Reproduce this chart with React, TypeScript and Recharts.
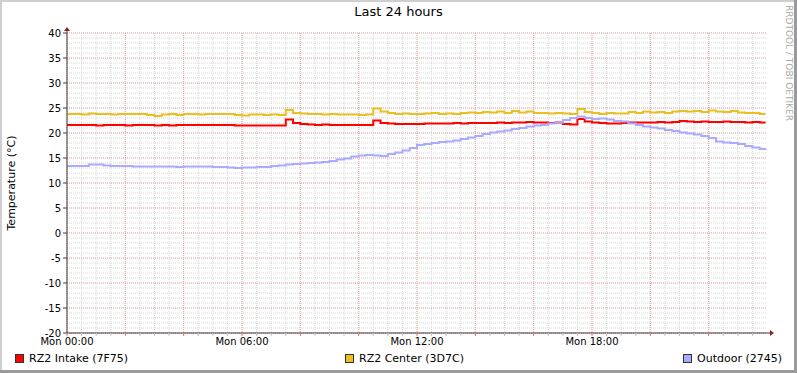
import React from "react";
import { LineChart, Line, XAxis, YAxis, CartesianGrid } from "recharts";

const hours = [
  0, 0.25, 0.5, 0.75, 1, 1.25, 1.5, 1.75,
  2, 2.25, 2.5, 2.75, 3, 3.25, 3.5, 3.75,
  4, 4.25, 4.5, 4.75, 5, 5.25, 5.5, 5.75,
  6, 6.25, 6.5, 6.75, 7, 7.25, 7.5, 7.75,
  8, 8.25, 8.5, 8.75, 9, 9.25, 9.5, 9.75,
  10, 10.25, 10.5, 10.75, 11, 11.25, 11.5, 11.75,
  12, 12.25, 12.5, 12.75, 13, 13.25, 13.5, 13.75,
  14, 14.25, 14.5, 14.75, 15, 15.25, 15.5, 15.75,
  16, 16.25, 16.5, 16.75, 17, 17.25, 17.5, 17.75,
  18, 18.25, 18.5, 18.75, 19, 19.25, 19.5, 19.75,
  20, 20.25, 20.5, 20.75, 21, 21.25, 21.5, 21.75,
  22, 22.25, 22.5, 22.75, 23, 23.25, 23.5, 23.75,
  23.95,
];

const intake = [
  21.6, 21.6, 21.6, 21.6, 21.5, 21.6, 21.6, 21.6,
  21.5, 21.6, 21.6, 21.6, 21.5, 21.6, 21.5, 21.6,
  21.6, 21.6, 21.6, 21.6, 21.6, 21.6, 21.6, 21.5,
  21.5, 21.5, 21.5, 21.5, 21.5, 21.5, 22.7, 22.0,
  21.8, 21.7, 21.6, 21.7, 21.6, 21.6, 21.6, 21.6,
  21.6, 21.6, 22.5, 22.0, 21.9, 21.8, 21.8, 21.8,
  21.8, 21.9, 21.9, 21.9, 21.9, 22.0, 21.9, 22.0,
  22.0, 22.0, 22.0, 22.1, 22.0, 22.1, 22.1, 22.2,
  22.1, 22.1, 22.0, 22.1, 21.8, 21.7, 22.8, 22.3,
  22.1, 22.0, 21.9, 21.9, 22.0, 22.1, 22.1, 22.1,
  22.1, 22.2, 22.1, 22.2, 22.4, 22.3, 22.2, 22.3,
  22.2, 22.2, 22.3, 22.2, 22.2, 22.1, 22.2, 22.1,
  22.1,
];

const center = [
  23.8, 23.8, 23.7, 23.9, 23.8, 23.8, 23.7, 23.8,
  23.8, 23.8, 23.8, 23.6, 23.4, 23.7, 23.8, 23.6,
  23.8, 23.8, 23.7, 23.8, 23.8, 23.8, 23.8, 23.6,
  23.5, 23.7, 23.7, 23.6, 23.7, 23.6, 24.6, 24.0,
  23.9, 23.8, 23.8, 23.7, 23.8, 23.7, 23.7, 23.7,
  23.6, 23.7, 24.9, 24.3, 24.0, 23.8, 23.9, 23.8,
  23.8, 23.9, 24.0, 23.8, 23.9, 23.8, 24.0, 24.1,
  24.0, 24.2, 24.1, 24.3, 24.0, 24.4, 24.1, 24.3,
  24.0, 24.0, 23.9, 24.0, 23.9, 23.8, 24.8, 24.2,
  24.0, 23.8, 24.0, 23.9, 23.9, 24.2, 24.0, 24.3,
  24.1, 24.2, 24.0, 24.3, 24.4, 24.3, 24.4, 24.2,
  24.5, 24.3, 24.2, 24.4, 24.1, 24.0, 24.0, 23.8,
  23.8,
];

const outdoor = [
  13.4, 13.4, 13.4, 13.7, 13.7, 13.5, 13.4, 13.4,
  13.4, 13.3, 13.3, 13.3, 13.3, 13.3, 13.3, 13.2,
  13.3, 13.3, 13.3, 13.3, 13.2, 13.2, 13.1, 13.0,
  13.1, 13.1, 13.2, 13.2, 13.4, 13.5, 13.7, 13.8,
  13.9, 14.0, 14.1, 14.2, 14.4, 14.7, 14.9, 15.3,
  15.5, 15.6, 15.5, 15.4, 15.8, 16.1, 16.5, 17.0,
  17.6, 17.8, 18.0, 18.2, 18.3, 18.5, 18.8, 19.1,
  19.4, 19.8, 20.1, 20.3, 20.5, 20.8, 21.0, 21.3,
  21.5, 21.6, 21.9, 22.1, 22.6, 23.0, 23.3, 23.0,
  22.8, 22.9, 22.7, 22.4, 22.3, 21.9, 21.6, 21.3,
  21.1, 20.9, 20.6, 20.4, 20.1, 19.9, 19.7, 19.4,
  19.0, 18.3, 18.1, 18.0, 17.8, 17.4, 17.1, 16.8,
  16.9,
];

const yTicks = [-20, -15, -10, -5, 0, 5, 10, 15, 20, 25, 30, 35, 40];
const xLabelHours = [0, 6, 12, 18];
const xTickLabels = ["Mon 00:00", "Mon 06:00", "Mon 12:00", "Mon 18:00"];

const seriesNames = ["RZ2 Intake (7F75)", "RZ2 Center (3D7C)", "Outdoor (2745)"];
const colors = ["#FF0000", "#E8C021", "#AAAAFF"];

const data = hours.map((t, i) => ({
  t,
  intake: intake[i],
  center: center[i],
  outdoor: outdoor[i],
}));

// grid positions (layout helpers)
const minorY: number[] = [];
for (let v = -20; v <= 40; v += 1) minorY.push(v);
const minorX: number[] = [];
for (let h = 0; h < 24; h += 0.5) minorX.push(h);
const majorX: number[] = [];
for (let h = 0; h < 24; h += 2) majorX.push(h);

const FONT = "'DejaVu Sans', sans-serif";
const AXIS = "#4a3a3a";

const XTick = (props: any) => {
  const { x, y, payload } = props;
  const v = payload.value as number;
  const major = Math.abs(v % 2) < 1e-9;
  const idx = xLabelHours.indexOf(v);
  return (
    <g>
      <line x1={x} x2={x} y1={y} y2={y + 3} stroke={major ? "#e07070" : "#c0c0c0"} />
      {idx >= 0 && (
        <text x={x} y={y + 12} textAnchor="middle" fontSize={10} fontFamily={FONT} fill="#000">
          {xTickLabels[idx]}
        </text>
      )}
    </g>
  );
};

export default function App() {
  return (
    <div
      style={{
        position: "absolute",
        left: 0,
        top: 0,
        width: 797,
        height: 373,
        background: "#fff",
        fontFamily: FONT,
      }}
    >
      <LineChart
        width={797}
        height={373}
        data={data}
        margin={{ top: 33, right: 30, bottom: 0, left: 0 }}
      >
        <CartesianGrid
          horizontalValues={minorY}
          verticalValues={minorX}
          stroke="#d6d6d6"
          strokeDasharray="1 1"
        />
        <CartesianGrid
          horizontalValues={yTicks}
          verticalValues={majorX}
          stroke="#eaa8a8"
          strokeDasharray="1 1"
        />
        <XAxis
          dataKey="t"
          type="number"
          domain={[0, 24]}
          ticks={minorX}
          interval={0}
          tick={<XTick />}
          tickLine={false}
          tickSize={0}
          tickMargin={0}
          height={40}
          axisLine={{ stroke: AXIS }}
        />
        <YAxis
          type="number"
          domain={[-20, 40]}
          ticks={yTicks}
          interval={0}
          width={67}
          tickSize={4}
          tickMargin={2}
          tickLine={{ stroke: AXIS }}
          axisLine={{ stroke: AXIS }}
          tick={{ fontSize: 10, fontFamily: FONT, fill: "#000" }}
        />
        <Line dataKey="intake" type="stepAfter" stroke={colors[0]} strokeWidth={2} dot={false} isAnimationActive={false} />
        <Line dataKey="center" type="stepAfter" stroke={colors[1]} strokeWidth={2} dot={false} isAnimationActive={false} />
        <Line dataKey="outdoor" type="stepAfter" stroke={colors[2]} strokeWidth={2} dot={false} isAnimationActive={false} />
      </LineChart>

      {/* axis extensions and arrows */}
      <svg width={797} height={373} style={{ position: "absolute", left: 0, top: 0, pointerEvents: "none" }}>
        <line x1={67} x2={67} y1={29} y2={33} stroke={AXIS} />
        <polygon points="67,27 64,31 70,31" fill="#8b2525" />
        <line x1={767} x2={771} y1={333} y2={333} stroke={AXIS} />
        <polygon points="774,333 770,330 770,336" fill="#8b2525" />
      </svg>

      {/* title */}
      <div style={{ position: "absolute", left: 0, width: 797, top: 4, textAlign: "center", fontSize: 13, color: "#000" }}>
        Last 24 hours
      </div>

      {/* y label */}
      <div
        style={{
          position: "absolute",
          left: 11,
          top: 183,
          transform: "translate(-50%, -50%) rotate(-90deg)",
          whiteSpace: "nowrap",
          fontSize: 11,
          color: "#000",
        }}
      >
        Temperature (°C)
      </div>

      {/* watermark */}
      <div
        style={{
          position: "absolute",
          left: 784,
          top: 5,
          writingMode: "vertical-rl",
          fontSize: 9,
          color: "#aaaaaa",
          whiteSpace: "nowrap",
        }}
      >
        RRDTOOL / TOBI OETIKER
      </div>

      {/* legend */}
      {[15, 345, 683].map((lx, i) => (
        <div key={i} style={{ position: "absolute", left: lx, top: 352, display: "flex", alignItems: "center", fontSize: 11, whiteSpace: "nowrap", color: "#000" }}>
          <span style={{ display: "inline-block", width: 7, height: 7, background: colors[i], border: "1px solid #333", marginRight: 5 }} />
          <span>{seriesNames[i]}</span>
        </div>
      ))}

      {/* frame */}
      <div style={{ position: "absolute", left: 0, top: 0, width: 797, height: 2, background: "#cfcfcf" }} />
      <div style={{ position: "absolute", left: 0, top: 0, width: 2, height: 373, background: "#cfcfcf" }} />
      <div style={{ position: "absolute", right: 0, top: 0, width: 3, height: 373, background: "#9a9a9a" }} />
      <div style={{ position: "absolute", left: 0, bottom: 0, width: 797, height: 3, background: "#9a9a9a" }} />
    </div>
  );
}
